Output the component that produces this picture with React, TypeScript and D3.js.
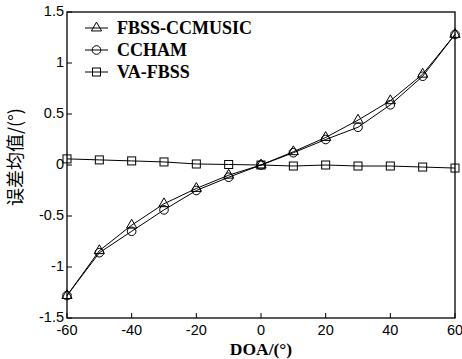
import React from "react";
import * as d3 from "d3";

const doa = [-60, -50, -40, -30, -20, -10, 0, 10, 20, 30, 40, 50, 60];
const fbssCcmusic = [-1.28, -0.84, -0.59, -0.38, -0.23, -0.1, 0, 0.13, 0.27, 0.44, 0.63, 0.89, 1.28];
const ccham = [-1.28, -0.86, -0.65, -0.44, -0.25, -0.12, 0, 0.12, 0.25, 0.37, 0.59, 0.87, 1.28];
const vaFbss = [0.06, 0.05, 0.04, 0.03, 0.01, 0.005, 0, -0.01, 0.0, -0.01, -0.01, -0.02, -0.03];
const xTicks = [-60, -40, -20, 0, 20, 40, 60];
const yTicks = [-1.5, -1, -0.5, 0, 0.5, 1, 1.5];

const series = [
  { name: "FBSS-CCMUSIC", values: fbssCcmusic, marker: "triangle" },
  { name: "CCHAM", values: ccham, marker: "circle" },
  { name: "VA-FBSS", values: vaFbss, marker: "square" },
];

const W = 462;
const H = 359;
const left = 67;
const right = 455;
const top = 12;
const bottom = 318;

const Marker = ({ type, x, y }: { type: string; x: number; y: number }) => {
  if (type === "circle")
    return <circle cx={x} cy={y} r={4.3} fill="none" stroke="#000" strokeWidth={1} />;
  if (type === "square")
    return <rect x={x - 4} y={y - 4} width={8} height={8} fill="none" stroke="#000" strokeWidth={1} />;
  const p = d3.symbol(d3.symbolTriangle, 45)();
  return <path d={p || ""} transform={`translate(${x},${y})`} fill="none" stroke="#000" strokeWidth={1} />;
};

export default function App() {
  const x = d3.scaleLinear().domain([-60, 60]).range([left, right]);
  const y = d3.scaleLinear().domain([-1.5, 1.5]).range([bottom, top]);
  const line = d3
    .line<number>()
    .x((_, i) => x(doa[i]))
    .y((d) => y(d));

  const tickFont = "'Liberation Sans', Arial, sans-serif";
  const serif = "'Liberation Serif', 'Times New Roman', serif";

  return (
    <svg width={W} height={H} style={{ position: "absolute", left: 0, top: 0, background: "#fff" }}>
      <rect x={0} y={0} width={W} height={H} fill="#fff" />
      {series.map((s) => (
        <g key={s.name}>
          <path d={line(s.values) || ""} fill="none" stroke="#000" strokeWidth={1} />
          {s.values.map((v, i) => (
            <Marker key={i} type={s.marker} x={x(doa[i])} y={y(v)} />
          ))}
        </g>
      ))}
      <rect x={left} y={top} width={right - left} height={bottom - top} fill="none" stroke="#000" strokeWidth={1.3} />
      {xTicks.map((t) => (
        <g key={t}>
          <line x1={x(t)} x2={x(t)} y1={bottom} y2={bottom - 5} stroke="#000" />
          <text x={x(t)} y={bottom + 17} textAnchor="middle" fontFamily={tickFont} fontSize={14.5}>
            {t}
          </text>
        </g>
      ))}
      {yTicks.map((t) => (
        <g key={t}>
          <line x1={left} x2={left + 5} y1={y(t)} y2={y(t)} stroke="#000" />
          <text x={left - 3} y={y(t) + 4} textAnchor="end" fontFamily={tickFont} fontSize={14.5}>
            {t}
          </text>
        </g>
      ))}
      {series.map((s, i) => {
        const ly = 28 + i * 22;
        return (
          <g key={s.name}>
            <line x1={85} x2={108} y1={ly} y2={ly} stroke="#000" />
            <Marker type={s.marker} x={96.5} y={ly} />
            <text x={117} y={ly + 6} fontFamily={serif} fontWeight="bold" fontSize={18}>
              {s.name}
            </text>
          </g>
        );
      })}
      <text x={(left + right) / 2} y={355} textAnchor="middle" fontFamily={serif} fontWeight="bold" fontSize={17.5}>
        DOA/(°)
      </text>
      <text
        transform={`translate(22,157) rotate(-90)`}
        textAnchor="middle"
        fontFamily="'Noto Sans CJK SC', sans-serif"
        fontSize={18}
      >
        误差均值/(°)
      </text>
    </svg>
  );
}
